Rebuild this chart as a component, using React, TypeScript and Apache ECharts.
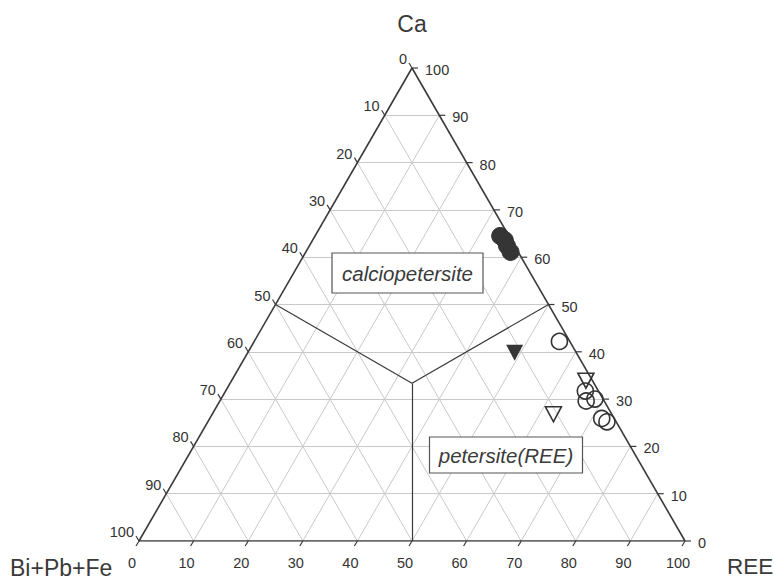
import React, { useEffect, useRef } from "react";
import * as echarts from "echarts";

// Ternary composition (%): Ca, REE; Bi+Pb+Fe = 100 - Ca - REE
const filledCircleCa = [64.5, 63.6, 62.4, 61.1];
const filledCircleREE = [33.9, 35.2, 36.2, 37.5];
const filledTriangleCa = [39.8];
const filledTriangleREE = [48.9];
const openCircleCa = [42.2, 31.7, 29.6, 30.0, 25.9, 25.2];
const openCircleREE = [55.9, 65.9, 67.1, 68.5, 71.8, 73.1];
const openTriangleCa = [33.9, 26.8];
const openTriangleREE = [64.9, 62.5];

const tickValues = [0, 10, 20, 30, 40, 50, 60, 70, 80, 90, 100];
const gridValues = [10, 20, 30, 40, 50, 60, 70, 80, 90];
// field boundaries: [Ca, REE] nodes
const boundaryFrom = [
  [50, 0],
  [50, 50],
  [0, 50],
];
const boundaryCenter = [100 / 3, 100 / 3];

const H = Math.sqrt(3) / 2;
const toXY = (ca: number, ree: number) => [ree + ca / 2, ca * H];

const FONT = '"Liberation Sans", Arial, Helvetica, sans-serif';
const INK = "#333";

export default function App() {
  const ref = useRef<HTMLDivElement>(null);
  useEffect(() => {
    if (!ref.current) return;
    const chart = echarts.init(ref.current, undefined, { renderer: "svg" });

    const gridLines: any[] = [];
    gridValues.forEach((k) => {
      gridLines.push({ coords: [toXY(k, 0), toXY(k, 100 - k)] });
      gridLines.push({ coords: [toXY(0, k), toXY(100 - k, k)] });
      gridLines.push({ coords: [toXY(0, 100 - k), toXY(100 - k, 0)] });
    });
    const edgeLines = [
      { coords: [toXY(0, 0), toXY(0, 100)] },
      { coords: [toXY(0, 100), toXY(100, 0)] },
      { coords: [toXY(100, 0), toXY(0, 0)] },
    ];
    const boundaryLines = boundaryFrom.map((b) => ({
      coords: [toXY(b[0], b[1]), toXY(boundaryCenter[0], boundaryCenter[1])],
    }));

    const tickData: number[][] = [];
    tickValues.forEach((k) => {
      const l = toXY(100 - k, 0);
      tickData.push([l[0], l[1], k, 0]);
      const r = toXY(k, 100 - k);
      tickData.push([r[0], r[1], k, 1]);
      const b = toXY(0, k);
      tickData.push([b[0], b[1], k, 2]);
    });

    const pts = (ca: number[], ree: number[]) => ca.map((c, i) => toXY(c, ree[i]));

    const option: any = {
      animation: false,
      backgroundColor: "#ffffff",
      grid: { left: 139, top: 68, width: 546, height: 473 },
      xAxis: { type: "value", min: 0, max: 100, show: false },
      yAxis: { type: "value", min: 0, max: 100 * H, show: false },
      series: [
        {
          type: "lines",
          coordinateSystem: "cartesian2d",
          silent: true,
          z: 1,
          lineStyle: { color: "#c9c9c9", width: 1, opacity: 1 },
          data: gridLines,
        },
        {
          type: "lines",
          coordinateSystem: "cartesian2d",
          silent: true,
          z: 2,
          lineStyle: { color: "#3a3a3a", width: 1.2, opacity: 1 },
          data: boundaryLines,
        },
        {
          type: "lines",
          coordinateSystem: "cartesian2d",
          silent: true,
          z: 3,
          lineStyle: { color: "#3a3a3a", width: 1.6, opacity: 1 },
          data: edgeLines,
        },
        {
          type: "custom",
          coordinateSystem: "cartesian2d",
          clip: false,
          silent: true,
          z: 4,
          data: tickData,
          renderItem: (_p: any, api: any) => {
            const p = api.coord([api.value(0), api.value(1)]);
            const lab = String(api.value(2));
            const side = api.value(3);
            let x2 = p[0], y2 = p[1], tx = p[0], ty = p[1], align = "center";
            if (side === 0) {
              x2 = p[0] - 3; y2 = p[1] - 5; tx = p[0] - 5; ty = p[1] - 9; align = "right";
            } else if (side === 1) {
              x2 = p[0] + 6; y2 = p[1]; tx = p[0] + 13; ty = p[1] + 2; align = "left";
            } else {
              x2 = p[0] - 3; y2 = p[1] + 5; tx = p[0] - 7; ty = p[1] + 22; align = "center";
            }
            return {
              type: "group",
              children: [
                {
                  type: "line",
                  shape: { x1: p[0], y1: p[1], x2, y2 },
                  style: { stroke: "#3a3a3a", lineWidth: 1.2 },
                },
                {
                  type: "text",
                  x: tx,
                  y: ty,
                  style: {
                    text: lab,
                    fill: INK,
                    fontSize: 14.5,
                    fontFamily: FONT,
                    align,
                    verticalAlign: "middle",
                  },
                },
              ],
            };
          },
        },
        {
          type: "scatter",
          clip: false,
          z: 5,
          symbol: "circle",
          symbolSize: 17,
          itemStyle: { color: "#353535", borderColor: "#353535", borderWidth: 1, opacity: 1 },
          data: pts(filledCircleCa, filledCircleREE),
        },
        {
          type: "scatter",
          clip: false,
          z: 5,
          symbol: "triangle",
          symbolRotate: 180,
          symbolSize: [17, 16],
          itemStyle: { color: "#353535", opacity: 1 },
          data: pts(filledTriangleCa, filledTriangleREE),
        },
        {
          type: "scatter",
          clip: false,
          z: 5,
          symbol: "circle",
          symbolSize: 16,
          itemStyle: { color: "rgba(0,0,0,0)", borderColor: "#333", borderWidth: 1.6, opacity: 1 },
          data: pts(openCircleCa, openCircleREE),
        },
        {
          type: "scatter",
          clip: false,
          z: 5,
          symbol: "triangle",
          symbolRotate: 180,
          symbolSize: [16, 15],
          itemStyle: { color: "rgba(0,0,0,0)", borderColor: "#333", borderWidth: 1.6, opacity: 1 },
          data: pts(openTriangleCa, openTriangleREE),
        },
      ],
      graphic: [
        {
          type: "text",
          x: 412,
          y: 24,
          z: 100,
          style: { text: "Ca", fill: "#3a3a3a", fontSize: 23, fontFamily: FONT, align: "center", verticalAlign: "middle" },
        },
        {
          type: "text",
          x: 10,
          y: 568,
          z: 100,
          style: { text: "Bi+Pb+Fe", fill: "#3a3a3a", fontSize: 23, lineHeight: 22, fontFamily: FONT, align: "left", verticalAlign: "middle" },
        },
        {
          type: "text",
          x: 727,
          y: 566,
          z: 100,
          style: { text: "REE", fill: "#3a3a3a", fontSize: 22.5, lineHeight: 22, fontFamily: FONT, align: "left", verticalAlign: "middle" },
        },
        {
          type: "rect",
          z: 100,
          shape: { x: 332, y: 253, width: 151, height: 40 },
          style: { fill: "#ffffff", stroke: "#555", lineWidth: 1.2 },
        },
        {
          type: "text",
          x: 407.5,
          y: 273,
          z: 101,
          style: { text: "calciopetersite", fill: "#3a3a3a", fontSize: 20.5, fontStyle: "italic", fontFamily: FONT, align: "center", verticalAlign: "middle" },
        },
        {
          type: "rect",
          z: 100,
          shape: { x: 429.5, y: 437, width: 153, height: 36 },
          style: { fill: "#ffffff", stroke: "#555", lineWidth: 1.2 },
        },
        {
          type: "text",
          x: 506,
          y: 455,
          z: 101,
          style: { text: "petersite(REE)", fill: "#3a3a3a", fontSize: 20.5, fontStyle: "italic", fontFamily: FONT, align: "center", verticalAlign: "middle" },
        },
      ],
    };
    chart.setOption(option);
    return () => chart.dispose();
  }, []);
  return (
    <div
      ref={ref}
      style={{ position: "fixed", left: 0, top: 0, width: 774, height: 580, background: "#fff" }}
    />
  );
}
